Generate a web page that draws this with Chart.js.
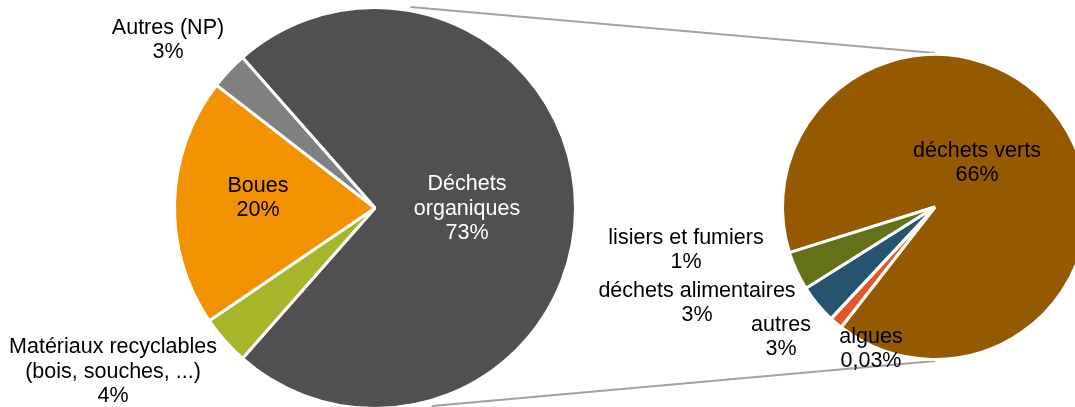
<!DOCTYPE html>
<html>
<head>
<meta charset="utf-8">
<script src="https://cdn.jsdelivr.net/npm/chart.js@4.4.1/dist/chart.umd.min.js"></script>
<style>
  html, body { margin: 0; padding: 0; background: #fff; }
  #wrap { position: relative; width: 1075px; height: 407px; overflow: hidden; }
  canvas { position: absolute; top: 0; }
  #liens { left: 0; z-index: 0; }
  #camembert { left: 0; z-index: 1; }
  #detail { left: 560px; z-index: 2; }
</style>
</head>
<body>
<div id="wrap">
  <canvas id="liens" width="1075" height="407"></canvas>
  <canvas id="camembert" width="750" height="410"></canvas>
  <canvas id="detail" width="760" height="407"></canvas>
</div>
<script>
// Répartition globale (en %)
var categories = [['Déchets', 'organiques'], ['Matériaux recyclables', '(bois, souches, ...)'], ['Boues'], ['Autres (NP)']];
var parts = [73, 4, 20, 3];

// Détail des déchets organiques (en % du total)
var sousCategories = [['déchets verts'], ['lisiers et fumiers'], ['algues'], ['autres'], ['déchets alimentaires']];
var sousParts = [66, 1, 0.03, 3, 3];

var couleurs = ['#505050', '#a7b52b', '#f39200', '#808080'];
var sousCouleurs = ['#955a00', '#e4552a', '#e4552a', '#26546e', '#647119'];

function pourcent(v) {
    return String(v).replace('.', ',') + '%';
}

// Etiquettes : nom + pourcentage, placées par rapport au centre du camembert
var etiquettes = {
    id: 'etiquettes',
    afterDatasetsDraw: function (chart, args, opts) {
        var ctx = chart.ctx;
        var arc = chart.getDatasetMeta(0).data[0];
        var ds = chart.data.datasets[0];
        ctx.save();
        ctx.font = '21.5px "Liberation Sans", Arial, sans-serif';
        ctx.textAlign = 'center';
        ctx.textBaseline = 'middle';
        chart.data.labels.forEach(function (lignes, i) {
            var pos = opts.positions[i];
            var texte = lignes.concat([pourcent(ds.data[i])]);
            var y0 = arc.y + pos[1] - (texte.length - 1) * opts.interligne / 2;
            ctx.fillStyle = opts.couleurs[i] || '#000';
            texte.forEach(function (t, k) {
                ctx.fillText(t, arc.x + pos[0], y0 + k * opts.interligne);
            });
        });
        ctx.restore();
    }
};

var optionsCommunes = {
    responsive: false,
    animation: false,
    plugins: { legend: { display: false }, tooltip: { enabled: false } }
};

var gauche = new Chart(document.getElementById('camembert').getContext('2d'), {
    type: 'pie',
    data: {
        labels: categories,
        datasets: [{
            data: parts,
            backgroundColor: couleurs,
            borderColor: '#fff',
            borderWidth: 3
        }]
    },
    options: Object.assign({}, optionsCommunes, {
        rotation: -41.4,
        layout: { padding: { top: 6 } },
        plugins: {
            legend: { display: false },
            tooltip: { enabled: false },
            etiquettes: {
                interligne: 24.5,
                positions: [[92, 1], [-262, 164], [-117, -10], [-207, -168]],
                couleurs: ['#fff', '#000', '#000', '#000']
            }
        }
    }),
    plugins: [etiquettes]
});

var droite = new Chart(document.getElementById('detail').getContext('2d'), {
    type: 'pie',
    data: {
        labels: sousCategories,
        datasets: [{
            data: sousParts,
            backgroundColor: sousCouleurs,
            borderColor: '#fff',
            borderWidth: 3
        }]
    },
    options: Object.assign({}, optionsCommunes, {
        rotation: 252.6,
        layout: { padding: { left: 221, right: 231, top: 53, bottom: 46 } },
        plugins: {
            legend: { display: false },
            tooltip: { enabled: false },
            etiquettes: {
                interligne: 24.5,
                positions: [[42, -44], [-249, 43], [-64, 142], [-154, 130], [-238, 96]],
                couleurs: []
            }
        }
    }),
    plugins: [etiquettes]
});

// Lignes de liaison entre les deux camemberts
function tracerLiens() {
    var a = gauche.getDatasetMeta(0).data[0];
    var b = droite.getDatasetMeta(0).data[0];
    var ox = 560; // décalage du canvas de détail
    var R = a.outerRadius + 1.5, r = b.outerRadius + 1.5;
    var ctx = document.getElementById('liens').getContext('2d');
    function point(deg, k) {
        var t = deg * Math.PI / 180;
        return [a.x + R * k * Math.sin(t), a.y - R * k * Math.cos(t)];
    }
    var haut = point(10, 1.01), bas = point(164, 1.02);
    ctx.strokeStyle = '#a2a2a2';
    ctx.lineWidth = 2;
    ctx.beginPath();
    ctx.moveTo(haut[0], haut[1]);
    ctx.lineTo(b.x + ox, b.y - r);
    ctx.moveTo(bas[0], bas[1]);
    ctx.lineTo(b.x + ox, b.y + r);
    ctx.stroke();
}
tracerLiens();
</script>
</body>
</html>
